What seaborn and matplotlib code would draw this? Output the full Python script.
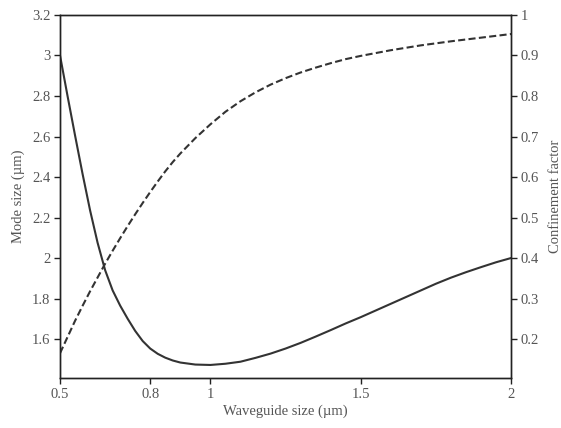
import matplotlib
matplotlib.use("Agg")
import matplotlib.pyplot as plt
import seaborn as sns
import pandas as pd

# Mode size (left axis, µm)
mode_x = [0.500, 0.525, 0.550, 0.575, 0.600, 0.625, 0.650, 0.675, 0.700, 0.725, 0.750,
          0.775, 0.800, 0.825, 0.850, 0.875, 0.900, 0.950, 1.000, 1.050, 1.100, 1.150,
          1.200, 1.250, 1.300, 1.350, 1.400, 1.450, 1.500, 1.550, 1.600, 1.650, 1.700,
          1.750, 1.800, 1.850, 1.900, 1.950, 2.000]
mode_y = [3.000, 2.800, 2.605, 2.415, 2.235, 2.075, 1.940, 1.840, 1.765, 1.700, 1.640,
          1.590, 1.553, 1.527, 1.508, 1.494, 1.484, 1.474, 1.472, 1.478, 1.488, 1.507,
          1.528, 1.553, 1.581, 1.612, 1.644, 1.677, 1.708, 1.741, 1.774, 1.807, 1.840,
          1.873, 1.903, 1.930, 1.955, 1.979, 2.000]

# Confinement factor (right axis)
conf_x = [0.500, 0.525, 0.550, 0.575, 0.600, 0.625, 0.650, 0.675, 0.700, 0.725, 0.750,
          0.775, 0.800, 0.825, 0.850, 0.875, 0.900, 0.950, 1.000, 1.050, 1.100, 1.150,
          1.200, 1.250, 1.300, 1.350, 1.400, 1.450, 1.500, 1.600, 1.700, 1.800, 1.900,
          2.000]
conf_y = [0.165, 0.205, 0.245, 0.282, 0.318, 0.352, 0.386, 0.418, 0.449, 0.479, 0.508,
          0.536, 0.563, 0.589, 0.614, 0.637, 0.658, 0.696, 0.730, 0.761, 0.787, 0.809,
          0.828, 0.844, 0.858, 0.870, 0.881, 0.891, 0.899, 0.913, 0.925, 0.935, 0.944,
          0.953]

x_ticks = [0.5, 0.8, 1, 1.5, 2]
x_tick_labels = ["0.5", "0.8", "1", "1.5", "2"]
left_ticks = [1.6, 1.8, 2.0, 2.2, 2.4, 2.6, 2.8, 3.0, 3.2]
left_tick_labels = ["1.6", "1.8", "2", "2.2", "2.4", "2.6", "2.8", "3", "3.2"]
right_ticks = [0.2, 0.3, 0.4, 0.5, 0.6, 0.7, 0.8, 0.9, 1.0]
right_tick_labels = ["0.2", "0.3", "0.4", "0.5", "0.6", "0.7", "0.8", "0.9", "1"]

sns.set_theme(style="ticks")
plt.rcParams['font.family'] = ['Liberation Serif', 'DejaVu Serif']
text_color = "#555555"
line_color = "#333333"
fs = 10.5

fig = plt.figure(figsize=(5.61, 4.28), dpi=100)
ax = fig.add_axes([0.107, 0.117, 0.804, 0.848])

df_mode = pd.DataFrame({"x": mode_x, "y": mode_y})
df_conf = pd.DataFrame({"x": conf_x, "y": conf_y})

sns.lineplot(data=df_mode, x="x", y="y", ax=ax, color=line_color, linewidth=1.5)
ax.set_xlim(0.5, 2.0)
ax.set_ylim(1.408, 3.2)
ax.set_xticks(x_ticks)
ax.set_xticklabels(x_tick_labels)
ax.set_yticks(left_ticks)
ax.set_yticklabels(left_tick_labels)
ax.set_xlabel("Waveguide size (µm)", fontsize=fs, color=text_color, labelpad=3)
ax.set_ylabel("Mode size (µm)", fontsize=fs, color=text_color, labelpad=5)

ax2 = ax.twinx()
sns.lineplot(data=df_conf, x="x", y="y", ax=ax2, color=line_color, linewidth=1.5,
             linestyle=(0, (3.4, 1.6)))
ax2.set_ylim(0.104, 1.0)
ax2.set_yticks(right_ticks)
ax2.set_yticklabels(right_tick_labels)
ax2.set_ylabel("Confinement factor", fontsize=fs, color=text_color, labelpad=7)

for a in (ax, ax2):
    for s in a.spines.values():
        s.set_color("#222222")
        s.set_linewidth(1.0)
        s.set_visible(True)
    a.tick_params(direction="out", length=4, width=1.0, color="#222222",
                  labelsize=fs, labelcolor=text_color, pad=3)
ax2.set_xlim(0.5, 2.0)

fig.savefig("out.png", dpi=100)
